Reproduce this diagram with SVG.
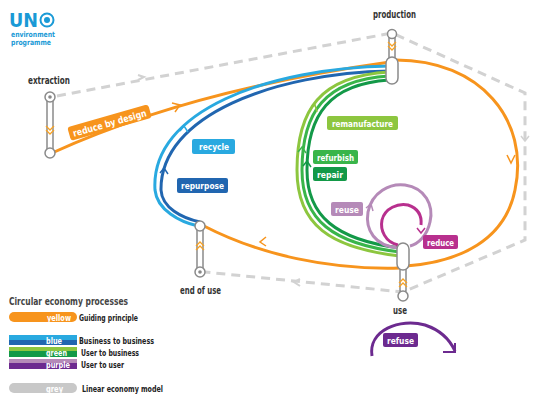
<svg xmlns="http://www.w3.org/2000/svg" width="540" height="401" viewBox="0 0 540 401">
<style>
text{font-family:"DejaVu Sans Condensed","Liberation Sans",sans-serif;font-weight:bold}
.lbl{fill:#fff;font-size:9.5px}
.node{fill:#fff;stroke:#8a8a8a;stroke-width:1.5}
.nt{fill:#333;font-size:10px}
.grey{fill:none;stroke:#d2d2d2;stroke-width:3;stroke-dasharray:9,6}
.line{fill:none;stroke-width:3}
.chev{fill:none;stroke:#f7a224;stroke-width:1.3}
</style>
<g id="logo">
<text x="9" y="27" font-size="19" fill="#1a9ad6" font-family="Liberation Sans,sans-serif" textLength="29" lengthAdjust="spacingAndGlyphs">UN</text>
<circle cx="47" cy="20" r="6.5" fill="none" stroke="#1a9ad6" stroke-width="2"/>
<circle cx="47" cy="20" r="3" fill="#1a9ad6"/>
<text x="11" y="37" font-size="7.5" fill="#1a9ad6" textLength="44" lengthAdjust="spacingAndGlyphs">environment</text>
<text x="11" y="45" font-size="7.5" fill="#1a9ad6" textLength="40" lengthAdjust="spacingAndGlyphs">programme</text>
</g>
<g id="connectors">
<path class="grey" d="M57,96 L392,33 L525,93 L525,240 L403,292 L205,272"/>
<path d="M138,80 L144,77 L138,75" fill="none" stroke="#d2d2d2" stroke-width="2"/>
<path d="M521,136 L525,141 L529,136" fill="none" stroke="#d2d2d2" stroke-width="1.5"/>
<path d="M300,279 L294,282 L300,286" fill="none" stroke="#d2d2d2" stroke-width="2"/>
<path class="line" stroke="#f7941d" d="M52,153 Q190,90 390,62"/>
<path d="M172,103 L180,105 L175,112" fill="none" stroke="#f7941d" stroke-width="1.5"/>
<path class="line" stroke="#f7941d" d="M396,60 C480,60 530,120 515,190 C505,240 460,262 406,266"/>
<path d="M507,155 L511,163 L515,155" fill="none" stroke="#f7941d" stroke-width="1.5"/>
<path class="line" stroke="#f7941d" d="M400,268 C330,270 260,255 204,226"/>
<path d="M266,237 L260,242 L266,246" fill="none" stroke="#f7941d" stroke-width="1.5"/>
<path class="line" stroke="#29a9e0" d="M390,66 C270,68 150,110 155,190 C157,210 180,222 198,226"/>
<path class="line" stroke="#2166b0" d="M390,71 C275,73 160,115 161,190 C162,208 182,218 200,222"/>
<path d="M180,131 L184,126 L188,132" fill="none" stroke="#29a9e0" stroke-width="1.5"/>
<path d="M160,173 L164,168 L168,174" fill="none" stroke="#2166b0" stroke-width="1.5"/>
<path class="line" stroke="#8dc63f" d="M389,72 C320,76 297,110 297,170 C297,225 330,248 400,256"/>
<path class="line" stroke="#39b54a" d="M389,76 C325,80 302,112 302,170 C302,220 333,244 400,252"/>
<path class="line" stroke="#139948" d="M389,80 C330,84 307,114 307,170 C307,216 336,240 400,248"/>
<path d="M310,109 L315,105 L317,112" fill="none" stroke="#8dc63f" stroke-width="1.5"/>
<path d="M298,152 L302,147 L306,153" fill="none" stroke="#39b54a" stroke-width="1.5"/>
<path d="M303,166 L307,161 L311,167" fill="none" stroke="#139948" stroke-width="1.5"/>
<path class="line" stroke="#b58ab8" d="M398,248 C375,246 365,230 368,212 C372,192 390,183 405,185 C425,188 434,205 430,222 C427,236 418,244 410,246"/>
<path d="M366,208 L371,204 L373,211" fill="none" stroke="#b58ab8" stroke-width="1.5"/>
<path class="line" stroke="#b8308e" d="M398,245 C385,242 380,230 382,220 C385,208 398,203 408,205 C417,208 422,215 421,225"/>
<path d="M417,228 L421,233 L425,228" fill="none" stroke="#b8308e" stroke-width="1.5"/>
<path class="line" stroke="#6c2a8f" d="M372,356 C368,330 400,318 425,325 C440,330 450,340 455,351"/>
<path d="M443,352 L455,352 L455,343" fill="none" stroke="#6c2a8f" stroke-width="2"/>
</g>
<g id="extraction">
<rect x="47" y="96" width="6" height="57" rx="3" class="node"/>
<circle cx="50" cy="97" r="5" class="node"/><circle cx="50" cy="97" r="1.8" fill="#888"/>
<circle cx="50" cy="153" r="5" class="node"/>
<path class="chev" d="M46,126 L50,130 L54,126 M46,130 L50,134 L54,130"/>
<text class="nt" x="28" y="84" textLength="42" lengthAdjust="spacingAndGlyphs">extraction</text>
</g>
<g id="production">
<rect x="389" y="30" width="6" height="30" rx="3" class="node"/>
<circle cx="392" cy="34" r="4.5" class="node"/>
<rect x="386" y="57" width="12" height="27" rx="6" class="node"/>
<path class="chev" d="M388,42 L392,46 L396,42 M388,46 L392,50 L396,46"/>
<text class="nt" x="373" y="18" textLength="43" lengthAdjust="spacingAndGlyphs">production</text>
</g>
<g id="endofuse">
<rect x="197" y="225" width="6" height="47" rx="3" class="node"/>
<circle cx="200" cy="226" r="5" class="node"/>
<circle cx="200" cy="272" r="5" class="node"/><circle cx="200" cy="272" r="1.8" fill="#888"/>
<path class="chev" d="M196,246 L200,242 L204,246 M196,250 L200,246 L204,250"/>
<text class="nt" x="180" y="294" textLength="41" lengthAdjust="spacingAndGlyphs">end of use</text>
</g>
<g id="use">
<rect x="400" y="263" width="6" height="30" rx="3" class="node"/>
<rect x="397" y="243" width="12" height="27" rx="6" class="node"/>
<circle cx="403" cy="296" r="5" class="node"/>
<path class="chev" d="M399,283 L403,279 L407,283 M399,287 L403,283 L407,287"/>
<text class="nt" x="393" y="314" textLength="14" lengthAdjust="spacingAndGlyphs">use</text>
</g>
<g id="labels">
<g transform="translate(70,137) rotate(-16)"><rect x="0" y="-10" width="84" height="14" rx="3" fill="#f7941d"/><text class="lbl" x="4" y="1" textLength="76" lengthAdjust="spacingAndGlyphs">reduce by design</text></g>
<rect x="192" y="139" width="43" height="15" rx="2" fill="#29a9e0"/><text class="lbl" x="199" y="150" textLength="30" lengthAdjust="spacingAndGlyphs">recycle</text>
<rect x="177" y="178" width="51" height="15" rx="2" fill="#2166b0"/><text class="lbl" x="181" y="189" textLength="43" lengthAdjust="spacingAndGlyphs">repurpose</text>
<rect x="327" y="116" width="71" height="14" rx="2" fill="#8dc63f"/><text class="lbl" x="332" y="127" textLength="61" lengthAdjust="spacingAndGlyphs">remanufacture</text>
<rect x="313" y="150" width="45" height="14" rx="2" fill="#39b54a"/><text class="lbl" x="317" y="161" textLength="37" lengthAdjust="spacingAndGlyphs">refurbish</text>
<rect x="313" y="167" width="34" height="14" rx="2" fill="#139948"/><text class="lbl" x="317" y="178" textLength="26" lengthAdjust="spacingAndGlyphs">repair</text>
<rect x="331" y="202" width="32" height="14" rx="2" fill="#b58ab8"/><text class="lbl" x="335" y="213" textLength="24" lengthAdjust="spacingAndGlyphs">reuse</text>
<rect x="423" y="235" width="35" height="14" rx="2" fill="#b8308e"/><text class="lbl" x="427" y="246" textLength="27" lengthAdjust="spacingAndGlyphs">reduce</text>
<rect x="383" y="333" width="35" height="14" rx="2" fill="#6c2a8f"/><text class="lbl" x="387" y="344" textLength="27" lengthAdjust="spacingAndGlyphs">refuse</text>
</g>
<g id="legend">
<text x="9" y="305" font-size="10.5" fill="#444" textLength="119" lengthAdjust="spacingAndGlyphs">Circular economy processes</text>
<rect x="9" y="312" width="68" height="10" rx="5" fill="#f7941d"/><text class="lbl" x="47" y="320.5" textLength="24" lengthAdjust="spacingAndGlyphs">yellow</text>
<text x="79" y="321" font-size="9.5" fill="#222" textLength="59" lengthAdjust="spacingAndGlyphs">Guiding principle</text>
<rect x="9" y="335" width="68" height="10" fill="#2166b0"/><rect x="9" y="335" width="68" height="5" fill="#29a9e0"/><text class="lbl" x="46" y="344" textLength="16" lengthAdjust="spacingAndGlyphs">blue</text>
<text x="79" y="344" font-size="9.5" fill="#222" textLength="75" lengthAdjust="spacingAndGlyphs">Business to business</text>
<rect x="9" y="347" width="68" height="10" fill="#139948"/><rect x="9" y="347" width="68" height="4" fill="#8dc63f"/><text class="lbl" x="46" y="356" textLength="21" lengthAdjust="spacingAndGlyphs">green</text>
<text x="81" y="356" font-size="9.5" fill="#222" textLength="58" lengthAdjust="spacingAndGlyphs">User to business</text>
<rect x="9" y="359" width="68" height="10" fill="#6c2a8f"/><rect x="9" y="359" width="68" height="4" fill="#b58ab8"/><text class="lbl" x="46" y="368" textLength="24" lengthAdjust="spacingAndGlyphs">purple</text>
<text x="81" y="368" font-size="9.5" fill="#222" textLength="43" lengthAdjust="spacingAndGlyphs">User to user</text>
<rect x="9" y="383" width="68" height="10" rx="5" fill="#c8c8c8"/><text class="lbl" x="46" y="392" textLength="17" lengthAdjust="spacingAndGlyphs">grey</text>
<text x="82" y="392" font-size="9.5" fill="#222" textLength="81" lengthAdjust="spacingAndGlyphs">Linear economy model</text>
</g>
</svg>
